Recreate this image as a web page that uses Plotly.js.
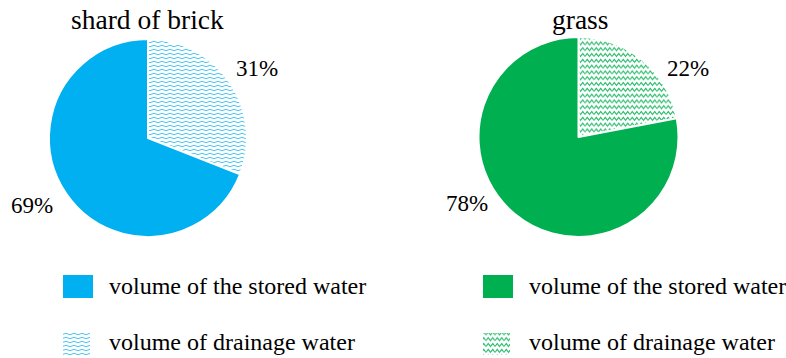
<!DOCTYPE html>
<html>
<head>
<meta charset="utf-8">
<script src="https://cdn.plot.ly/plotly-3.0.1.min.js"></script>
<style>
  html, body { margin: 0; padding: 0; background: #fff; }
  #chart { width: 786px; height: 358px; }
</style>
</head>
<body>
<div id="chart"></div>
<script>
// Share of drainage vs. stored water for two surface types
const pieTitles = ['shard of brick', 'grass'];
const sliceLabels = ['volume of drainage water', 'volume of the stored water'];
const brickValues = [31, 69];
const grassValues = [22, 78];
const legendLabels = ['volume of the stored water', 'volume of drainage water'];

const W = 786, H = 358;
const px = x => x / W;
const py = y => 1 - y / H;

const BLUE = '#00B0F0';
const GREEN = '#00B050';
const FONT = '"Liberation Serif", "Times New Roman", Times, serif';

// pie geometry (pixel centre + radius)
const pies = [
  { cx: 148, cy: 138, r: 99, color: BLUE, values: brickValues, wave: 'waveBlue',
    labelPos: [[257, 69], [32, 205]], titleX: 147, keyX: 63, textX: 107 },
  { cx: 578.5, cy: 137, r: 100, color: GREEN, values: grassValues, wave: 'waveGreen',
    labelPos: [[688, 69], [467, 204]], titleX: 580, keyX: 483, textX: 527 }
];

const data = pies.map(p => ({
  type: 'pie',
  labels: sliceLabels,
  values: p.values,
  sort: false,
  direction: 'clockwise',
  rotation: 0,
  textinfo: 'none',
  hoverinfo: 'label+percent',
  showlegend: false,
  marker: { colors: ['#ffffff', p.color], line: { color: '#ffffff', width: 2 } },
  domain: { x: [px(p.cx - p.r), px(p.cx + p.r)], y: [py(p.cy + p.r), py(p.cy - p.r)] }
}));

const annotations = [];
const shapes = [];
pies.forEach((p, i) => {
  annotations.push({
    text: pieTitles[i], xref: 'paper', yref: 'paper',
    x: px(p.titleX), y: py(19), xanchor: 'center', yanchor: 'middle',
    showarrow: false, font: { family: FONT, size: 27.5, color: '#000' }
  });
  p.values.forEach((v, k) => {
    annotations.push({
      text: v + '%', xref: 'paper', yref: 'paper',
      x: px(p.labelPos[k][0]), y: py(p.labelPos[k][1]), xanchor: 'center', yanchor: 'middle',
      showarrow: false, font: { family: FONT, size: 23, color: '#000' }
    });
  });
  // legend rows: solid key, then wave key
  const rows = [{ y0: 275, y1: 298, ty: 286, w: 30 }, { y0: 333, y1: 355, ty: 342, w: 27 }];
  rows.forEach((r, k) => {
    shapes.push({
      type: 'rect', xref: 'paper', yref: 'paper', layer: 'above',
      x0: px(p.keyX), x1: px(p.keyX + r.w), y0: py(r.y1), y1: py(r.y0),
      fillcolor: k === 0 ? p.color : '#ffffff', line: { width: 0 }
    });
    annotations.push({
      text: legendLabels[k], xref: 'paper', yref: 'paper',
      x: px(p.textX), y: py(r.ty), xanchor: 'left', yanchor: 'middle',
      showarrow: false, font: { family: FONT, size: 24, color: '#000' }
    });
  });
});

const layout = {
  width: W, height: H,
  margin: { l: 0, r: 0, t: 0, b: 0 },
  paper_bgcolor: '#ffffff',
  font: { family: FONT },
  showlegend: false,
  annotations: annotations,
  shapes: shapes
};

const gd = document.getElementById('chart');

// wavy hatch fills for the drainage slices and their legend keys
function addWaves() {
  const NS = 'http://www.w3.org/2000/svg';
  const svg = gd.querySelector('svg.main-svg');
  let defs = svg.querySelector('defs');
  if (!defs) { defs = document.createElementNS(NS, 'defs'); svg.insertBefore(defs, svg.firstChild); }
  const specs = [
    { id: 'waveBlue', w: 8, h: 4, d: 'M0,2 Q2,0.6 4,2 T8,2', color: BLUE, sw: 0.8, op: 0.9 },
    { id: 'waveGreen', w: 9, h: 5.8, d: 'M0,4.4 Q1.2,2.6 2.25,1.3 Q3.3,2.6 4.5,4.4 Q5.7,2.6 6.75,1.3 Q7.8,2.6 9,4.4', color: GREEN, sw: 1.0, op: 0.9 }
  ];
  specs.forEach(s => {
    const pat = document.createElementNS(NS, 'pattern');
    pat.setAttribute('id', s.id);
    pat.setAttribute('patternUnits', 'userSpaceOnUse');
    pat.setAttribute('width', s.w);
    pat.setAttribute('height', s.h);
    const bg = document.createElementNS(NS, 'rect');
    bg.setAttribute('width', s.w); bg.setAttribute('height', s.h); bg.setAttribute('fill', '#fff');
    pat.appendChild(bg);
    const path = document.createElementNS(NS, 'path');
    path.setAttribute('d', s.d);
    path.setAttribute('fill', 'none');
    path.setAttribute('stroke', s.color);
    path.setAttribute('stroke-width', s.sw);
    path.setAttribute('stroke-opacity', s.op);
    pat.appendChild(path);
    defs.appendChild(pat);
  });
  const traces = gd.querySelectorAll('.pielayer .trace');
  traces.forEach((t, i) => {
    const surf = t.querySelectorAll('.slice path.surface');
    if (surf[0]) surf[0].style.fill = 'url(#' + pies[i].wave + ')';
  });
  const shapePaths = gd.querySelectorAll('.shapelayer path');
  shapePaths.forEach(el => {
    const idx = +el.getAttribute('data-index');
    if (idx % 2 === 1) el.style.fill = 'url(#' + pies[(idx - 1) / 2].wave + ')';
  });
}

Plotly.newPlot(gd, data, layout, { staticPlot: true, displayModeBar: false }).then(addWaves);
</script>
</body>
</html>
